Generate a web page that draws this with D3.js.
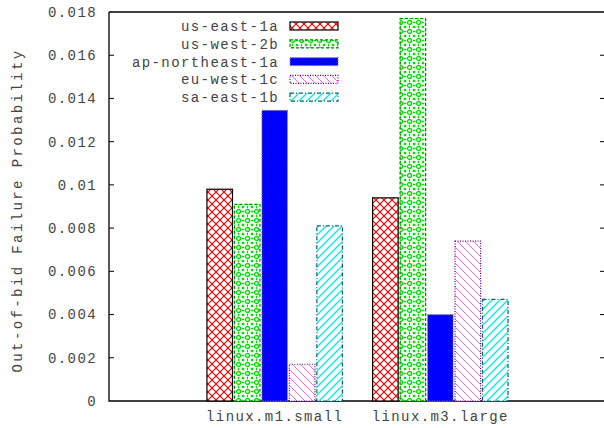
<!DOCTYPE html>
<html><head><meta charset="utf-8">
<script src="https://cdn.jsdelivr.net/npm/d3@7"></script>
<style>
body{margin:0;background:#fff;}
text{font-family:"Liberation Mono","DejaVu Sans Mono",monospace;font-size:14px;fill:#444;letter-spacing:1.4px;}
</style></head>
<body><svg id="c" width="604" height="428"></svg>
<script>
const categories = ["linux.m1.small", "linux.m3.large"];
const seriesNames = ["us-east-1a", "us-west-2b", "ap-northeast-1a", "eu-west-1c", "sa-east-1b"];
const usEast1a = [0.0098, 0.0094];
const usWest2b = [0.0091, 0.0177];
const apNortheast1a = [0.01345, 0.0040];
const euWest1c = [0.0017, 0.0074];
const saEast1b = [0.0081, 0.0047];
const yTicks = [0, 0.002, 0.004, 0.006, 0.008, 0.01, 0.012, 0.014, 0.016, 0.018];
const yTickLabels = ["0", "0.002", "0.004", "0.006", "0.008", "0.01", "0.012", "0.014", "0.016", "0.018"];
const values = [usEast1a, usWest2b, apNortheast1a, euWest1c, saEast1b];

const svg = d3.select("#c");
const L = 109, R = 606, T = 12, B = 401;
const x = d3.scaleLinear().domain([-1, 2]).range([L, R]);
const y = d3.scaleLinear().domain([0, 0.018]).range([B, T]);

const defs = svg.append("defs");
let p = defs.append("pattern").attr("id","p0").attr("patternUnits","userSpaceOnUse").attr("width",8).attr("height",8);
p.append("rect").attr("width",8).attr("height",8).attr("fill","#fff");
p.append("path").attr("d","M0,0L8,8M8,0L0,8").attr("stroke","#f00").attr("stroke-width",1.2);
p = defs.append("pattern").attr("id","p1").attr("patternUnits","userSpaceOnUse").attr("width",9).attr("height",9);
p.append("rect").attr("width",9).attr("height",9).attr("fill","#fff");
p.append("circle").attr("cx",4.5).attr("cy",4.5).attr("r",2).attr("fill","none").attr("stroke","#0d0").attr("stroke-width",1.3);
[[0,0],[9,0],[0,9],[9,9]].forEach(([a,b])=>p.append("rect").attr("x",a-1.2).attr("y",b-1.2).attr("width",2.4).attr("height",2.4).attr("fill","#0d0"));
p.append("path").attr("d","M4.5,0L4.5,1.3M4.5,7.7L4.5,9M0,4.5L1.3,4.5M7.7,4.5L9,4.5").attr("stroke","#0d0").attr("stroke-width",1.3);
p = defs.append("pattern").attr("id","p3").attr("patternUnits","userSpaceOnUse").attr("width",8).attr("height",8);
p.append("rect").attr("width",8).attr("height",8).attr("fill","#fff");
p.append("path").attr("d","M0,0L8,8M-4,4L4,12M4,-4L12,4").attr("stroke","#f6f").attr("stroke-width",1);
p = defs.append("pattern").attr("id","p4").attr("patternUnits","userSpaceOnUse").attr("width",8).attr("height",8);
p.append("rect").attr("width",8).attr("height",8).attr("fill","#fff");
p.append("path").attr("d","M0,8L8,0M-4,4L4,-4M4,12L12,4").attr("stroke","#0ee").attr("stroke-width",1.3);

const styles = [
  {fill:"url(#p0)", stroke:"#000", dash:null},
  {fill:"url(#p1)", stroke:"#080", dash:"3,2"},
  {fill:"#00f", stroke:"#888", dash:"1,1.5"},
  {fill:"url(#p3)", stroke:"#608", dash:"1,1.5"},
  {fill:"url(#p4)", stroke:"#066", dash:"4,2,1,2"}
];

svg.append("path").attr("d",`M${L},${T}L${R},${T}M${L},${T}L${L},${B}L${R},${B}`)
  .attr("stroke","#000").attr("stroke-width",1.3).attr("fill","none");

yTicks.forEach((t,i)=>{
  if(t>0 && t<0.018){
    svg.append("path").attr("d",`M${L},${y(t)}h5M${R-1},${y(t)}h-5`).attr("stroke","#000").attr("stroke-width",1);
  }
  svg.append("text").attr("x",97).attr("y",y(t)).attr("dy","0.35em").attr("text-anchor","end").text(yTickLabels[i]);
});

categories.forEach((c,i)=>{
  svg.append("text").attr("x",x(i)).attr("y",421).attr("text-anchor","middle").text(c);
});

svg.append("text").attr("transform",`translate(22,${(T+B)/2+4}) rotate(-90)`).attr("text-anchor","middle")
  .style("letter-spacing","2.4px").text("Out-of-bid Failure Probability");

const step = (x(1)-x(0))/6.03;
const bw = step*0.93;
values.forEach((vals,s)=>{
  vals.forEach((v,ci)=>{
    const cx = x(ci) + (s-2)*step;
    svg.append("rect").attr("x",cx-bw/2).attr("y",y(v)).attr("width",bw).attr("height",y(0)-y(v))
      .attr("fill",styles[s].fill).attr("stroke",styles[s].stroke).attr("stroke-width",1.2)
      .attr("stroke-dasharray",styles[s].dash);
  });
});

seriesNames.forEach((n,i)=>{
  const yy = 26 + i*17.8;
  svg.append("text").attr("x",279).attr("y",yy).attr("dy","0.35em").attr("text-anchor","end").text(n);
  svg.append("rect").attr("x",290).attr("y",yy-4).attr("width",48).attr("height",8)
    .attr("fill",styles[i].fill).attr("stroke",styles[i].stroke).attr("stroke-width",1.2)
    .attr("stroke-dasharray",styles[i].dash);
});
</script></body></html>
